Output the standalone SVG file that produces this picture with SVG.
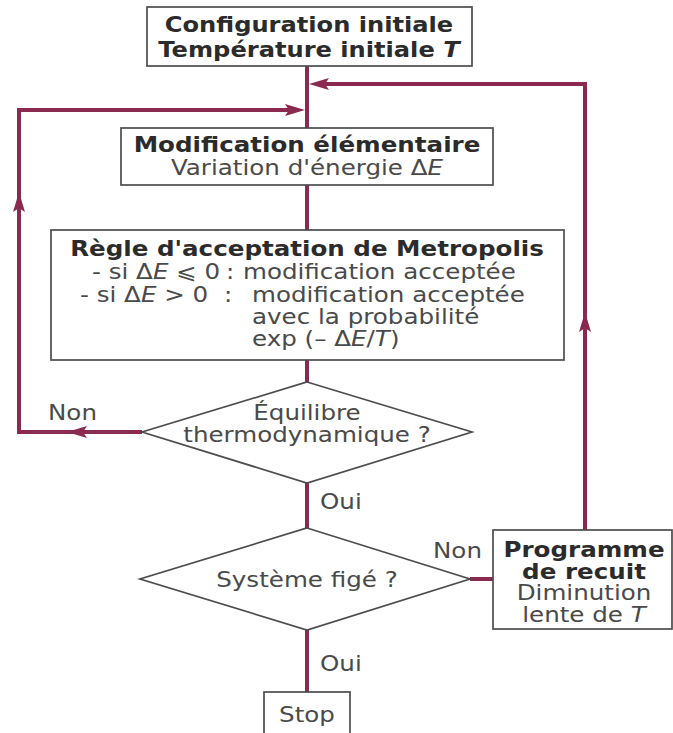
<svg xmlns="http://www.w3.org/2000/svg" width="673" height="733" viewBox="0 0 673 733">
<style>
text{font-family:"DejaVu Sans","Liberation Sans",sans-serif;font-size:21px;fill:#4a4a4a}
.b{font-weight:bold;fill:#2b2b2b}
.i{font-style:italic}
.box{fill:#fff;stroke:#4d4d4d;stroke-width:1.7}
.con{fill:none;stroke:#8b2a50;stroke-width:4;stroke-linejoin:miter}
</style>
<defs>
<marker id="ah" markerUnits="userSpaceOnUse" markerWidth="22" markerHeight="14" refX="11" refY="7" orient="auto">
<path d="M0,1 L20,7 L0,13 L4,7 z" fill="#8b2a50"/>
</marker>
</defs>
<rect width="673" height="733" fill="#fff"/>
<g id="connectors">
<path class="con" d="M307,66 L307,128"/>
<path class="con" d="M307,185 L307,230"/>
<path class="con" d="M307,360 L307,382"/>
<path class="con" d="M307,483 L307,528"/>
<path class="con" d="M307,630 L307,692"/>
<path class="con" d="M470,579 L493,579"/>
<path class="con" d="M142,432 L76,432" marker-end="url(#ah)"/>
<path class="con" d="M76,432 L19,432 L19,201" marker-end="url(#ah)"/>
<path class="con" d="M19,201 L19,110 L296,110" marker-end="url(#ah)"/>
<path class="con" d="M585,530 L585,321" marker-end="url(#ah)"/>
<path class="con" d="M585,321 L585,84 L318,84" marker-end="url(#ah)"/>
</g>
<g id="start">
<rect class="box" x="147" y="7" width="325" height="59"/>
<text class="b" transform="translate(309,32) scale(1.15,1)" text-anchor="middle">Configuration initiale</text>
<text class="b" transform="translate(309,57) scale(1.15,1)" text-anchor="middle">Température initiale <tspan class="i">T</tspan></text>
</g>
<g id="modification">
<rect class="box" x="121" y="128" width="372" height="57"/>
<text class="b" transform="translate(307,152) scale(1.17,1)" text-anchor="middle">Modification élémentaire</text>
<text transform="translate(307,175) scale(1.17,1)" text-anchor="middle">Variation d'énergie Δ<tspan class="i">E</tspan></text>
</g>
<g id="metropolis">
<rect class="box" x="51" y="230" width="513" height="130"/>
<text class="b" transform="translate(307,256) scale(1.17,1)" text-anchor="middle">Règle d'acceptation de Metropolis</text>
<text transform="translate(92,279) scale(1.17,1)">- si Δ<tspan class="i">E</tspan> ⩽ 0</text>
<text transform="translate(226,279) scale(1.17,1)">:</text>
<text transform="translate(243,279) scale(1.17,1)">modification acceptée</text>
<text transform="translate(80,302) scale(1.17,1)">- si Δ<tspan class="i">E</tspan> &gt; 0</text>
<text transform="translate(224,302) scale(1.17,1)">:</text>
<text transform="translate(252,302) scale(1.17,1)">modification acceptée</text>
<text transform="translate(252,324) scale(1.17,1)">avec la probabilité</text>
<text transform="translate(252,346) scale(1.17,1)">exp (– Δ<tspan class="i">E</tspan>/<tspan class="i">T</tspan>)</text>
</g>
<g id="equilibre">
<polygon class="box" points="307,382 472,432 307,483 142,432"/>
<text transform="translate(307,420) scale(1.17,1)" text-anchor="middle">Équilibre</text>
<text transform="translate(307,442) scale(1.17,1)" text-anchor="middle">thermodynamique ?</text>
</g>
<g id="fige">
<polygon class="box" points="307,528 470,579 307,630 140,579"/>
<text transform="translate(307,587) scale(1.17,1)" text-anchor="middle">Système figé ?</text>
</g>
<g id="recuit">
<rect class="box" x="493" y="530" width="179" height="99"/>
<text class="b" transform="translate(584,557) scale(1.17,1)" text-anchor="middle">Programme</text>
<text class="b" transform="translate(584,579) scale(1.17,1)" text-anchor="middle">de recuit</text>
<text transform="translate(584,600) scale(1.17,1)" text-anchor="middle">Diminution</text>
<text transform="translate(584,622) scale(1.17,1)" text-anchor="middle">lente de <tspan class="i">T</tspan></text>
</g>
<g id="stop">
<rect class="box" x="264" y="692" width="86" height="50"/>
<text transform="translate(307,722) scale(1.17,1)" text-anchor="middle">Stop</text>
</g>
<g id="labels">
<text transform="translate(48,420) scale(1.17,1)">Non</text>
<text transform="translate(320,509) scale(1.17,1)">Oui</text>
<text transform="translate(433,558) scale(1.17,1)">Non</text>
<text transform="translate(320,671) scale(1.17,1)">Oui</text>
</g>
</svg>
